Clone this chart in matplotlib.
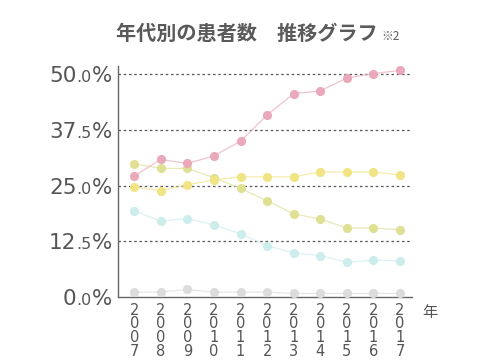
import matplotlib
matplotlib.use("Agg")
import matplotlib.pyplot as plt
from matplotlib.offsetbox import TextArea, HPacker, AnnotationBbox
import matplotlib.transforms as mtrans

plt.rcParams['font.family'] = ['Noto Sans CJK JP', 'DejaVu Sans']

years = ["2007", "2008", "2009", "2010", "2011", "2012", "2013", "2014", "2015", "2016", "2017"]
pink = [27.2, 30.9, 30.0, 31.7, 35.0, 40.9, 45.7, 46.3, 49.2, 50.2, 50.9]
yellow = [24.7, 23.9, 25.2, 26.3, 27.0, 27.0, 27.0, 28.1, 28.1, 28.1, 27.4]
olive = [29.9, 28.9, 28.9, 26.8, 24.4, 21.6, 18.7, 17.5, 15.5, 15.5, 15.1]
cyan = [19.3, 17.1, 17.6, 16.2, 14.2, 11.5, 9.9, 9.3, 7.8, 8.3, 8.1]
gray = [1.1, 1.1, 1.7, 1.1, 1.1, 1.1, 0.8, 0.8, 0.8, 0.8, 0.8]
yticks = [0, 12.5, 25, 37.5, 50]
ytick_big = ["0", "12", "25", "37", "50"]
ytick_small = [".0", ".5", ".0", ".5", ".0"]

series = [
    (gray, "#dcdcdc"),
    (cyan, "#cdecec"),
    (olive, "#dfe094"),
    (yellow, "#f1e485"),
    (pink, "#eaa9ba"),
]

fig = plt.figure(figsize=(4.9, 3.6), dpi=100)
ax = fig.add_axes([118/490, 1-297/360, (412-118)/490, (297-66)/360])
x = list(range(len(years)))
for vals, col in series:
    ax.plot(x, vals, color=col, lw=0.9, alpha=0.7, zorder=2)
    ax.plot(x, vals, ls='none', marker='o', ms=6.6, color=col, mec='none', zorder=3)

ax.set_xlim(-0.61, 10.45)
ax.set_ylim(0, 51.9)
for t in yticks[1:]:
    ax.axhline(t, color='#555555', lw=0.9, ls=(0, (2, 2.2)), zorder=1)

for s in ['top', 'right']:
    ax.spines[s].set_visible(False)
for s in ['left', 'bottom']:
    ax.spines[s].set_color('#666666')
    ax.spines[s].set_linewidth(1.0)

ax.set_yticks(yticks)
ax.set_yticklabels([])
ax.tick_params(axis='y', length=0)
ax.set_xticks(x)
ax.set_xticklabels(["\n".join(y) for y in years], fontsize=10.5, color='#555555',
                   linespacing=0.9, family='DejaVu Sans')
ax.tick_params(axis='x', length=0, pad=4)

trans = mtrans.blended_transform_factory(ax.transAxes, ax.transData)
for t, b, s in zip(yticks, ytick_big, ytick_small):
    parts = [TextArea(b, textprops=dict(fontsize=15.5, color='#555555', family='DejaVu Sans')),
             TextArea(s, textprops=dict(fontsize=11.5, color='#555555', family='DejaVu Sans')),
             TextArea("%", textprops=dict(fontsize=15.5, color='#555555', family='DejaVu Sans'))]
    box = HPacker(children=parts, align="baseline", pad=0, sep=0)
    ab = AnnotationBbox(box, (-6/294, t - 0.4), xycoords=trans, box_alignment=(1, 0.5),
                        frameon=False, pad=0, annotation_clip=False)
    ax.add_artist(ab)

fig.text(430/490, 1-312/360, "年", fontsize=11, color='#555555', ha='center', va='center')

title_parts = [TextArea("年代別の患者数　推移グラフ", textprops=dict(fontsize=14.5, color='#5a5a5a', weight='bold')),
               TextArea("※2", textprops=dict(fontsize=8.5, color='#5a5a5a'))]
tb = HPacker(children=title_parts, align="baseline", pad=0, sep=3)
ab = AnnotationBbox(tb, (258/490, 1-33/360), xycoords='figure fraction', box_alignment=(0.5, 0.5),
                    frameon=False, pad=0, annotation_clip=False)
fig.add_artist(ab)

fig.savefig("out.png", dpi=100)
